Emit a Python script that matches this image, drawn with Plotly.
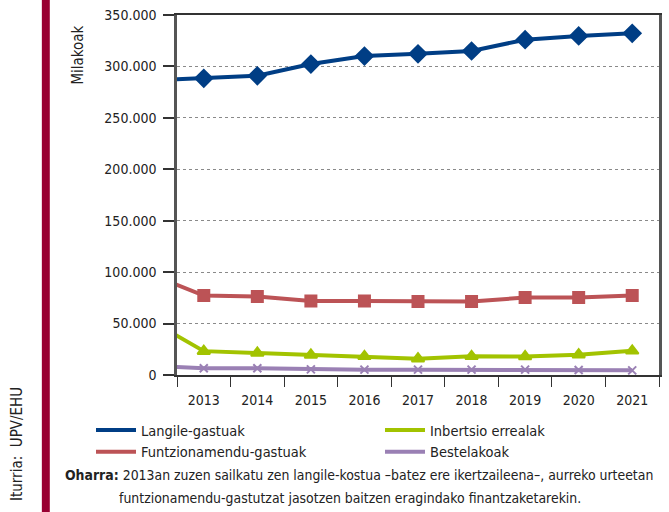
import plotly.graph_objects as go

years = ["2012", "2013", "2014", "2015", "2016", "2017", "2018", "2019", "2020", "2021"]
langile = [286400, 288400, 290900, 302300, 310100, 312300, 315000, 326000, 329600, 332200]
funtzionamendu = [98000, 77200, 76200, 72000, 72000, 71400, 71400, 75300, 75300, 77200]
inbertsio = [53000, 23200, 21400, 19500, 18200, 15900, 18200, 18000, 19800, 23500]
bestelakoak = [9100, 6500, 6500, 5500, 5200, 5200, 5200, 5200, 4900, 4500]

series_names = ["Langile-gastuak", "Funtzionamendu-gastuak", "Inbertsio errealak", "Bestelakoak"]
colors = ["#003E85", "#BC5356", "#A2C300", "#9A80B4"]
symbols = ["diamond", "square", "triangle-up", "x-thin"]
sizes = [13, 11, 11, 8]
values = [langile, funtzionamendu, inbertsio, bestelakoak]

FONT = "DejaVu Sans Condensed, Liberation Sans Narrow, sans-serif"
TXT = "#222"

fig = go.Figure()
for name, col, sym, sz, vals in zip(series_names, colors, symbols, sizes, values):
    fig.add_trace(go.Scatter(
        x=years, y=vals, mode="lines+markers", name=name, showlegend=False,
        line=dict(color=col, width=4),
        marker=dict(symbol=sym, size=sz, color=col, line=dict(color=col, width=2)),
        cliponaxis=True,
    ))

# legend entries (line samples only), ordered row-wise for 2 columns
for idx in [0, 2, 1, 3]:
    fig.add_trace(go.Scatter(
        x=[None], y=[None], mode="lines", name=series_names[idx],
        line=dict(color=colors[idx], width=4), showlegend=True,
    ))

W, H = 669, 512
L, R, T, B = 177, 7, 15, 137
pw, ph = W - L - R, H - T - B

def px(x):
    return (x - L) / pw

def py(y):
    return (H - B - y) / ph

fig.update_layout(
    width=W, height=H, autosize=False,
    margin=dict(l=L, r=R, t=T, b=B),
    paper_bgcolor="white", plot_bgcolor="white",
    separators=",.",
    font=dict(family=FONT, size=14, color=TXT),
    legend=dict(
        orientation="h", xref="paper", yref="paper",
        x=px(95), y=py(414), xanchor="left", yanchor="top",
        entrywidth=234, entrywidthmode="pixels",
        font=dict(family=FONT, size=14.5, color=TXT),
        itemwidth=40, tracegroupgap=0, bgcolor="rgba(0,0,0,0)",
    ),
    xaxis=dict(
        type="category", categoryorder="array", categoryarray=years,
        range=[0.5, 9.5], tickson="boundaries", ticks="outside", ticklen=10,
        tickcolor="#333", tickwidth=1, showgrid=False,
        showline=True, linecolor="#333", linewidth=1.5, mirror=True,
        ticklabelstandoff=11,
        tickfont=dict(family=FONT, size=14, color=TXT),
        fixedrange=True,
    ),
    yaxis=dict(
        range=[0, 350000], dtick=50000, tickformat=",.0f",
        ticks="outside", ticklen=11, tickcolor="#333", tickwidth=1.5,
        showgrid=True, gridcolor="#8a8a8a", griddash="dot", gridwidth=1,
        showline=True, linecolor="#555", linewidth=2.5, mirror=True,
        zeroline=False, ticklabelstandoff=4,
        tickfont=dict(family=FONT, size=14, color=TXT),
        fixedrange=True,
    ),
    shapes=[dict(type="rect", xref="paper", yref="paper",
                 x0=px(41), x1=px(49), y0=py(512), y1=py(0),
                 fillcolor="#990032", line=dict(width=0), layer="above")],
    annotations=[
        dict(text="Milakoak", xref="paper", yref="paper", x=px(77), y=py(55),
             xanchor="center", yanchor="middle", textangle=-90, showarrow=False,
             font=dict(family=FONT, size=15, color=TXT)),
        dict(text="Iturria:  UPV/EHU", xref="paper", yref="paper", x=px(16), y=py(444),
             xanchor="center", yanchor="middle", textangle=-90, showarrow=False,
             font=dict(family=FONT, size=15, color=TXT)),
        dict(text="<b>Oharra:</b> 2013an zuzen sailkatu zen langile-kostua –batez ere ikertzaileena–, aurreko urteetan",
             xref="paper", yref="paper", x=px(62), y=py(475),
             xanchor="left", yanchor="middle", showarrow=False,
             font=dict(family=FONT, size=13.9, color=TXT)),
        dict(text="funtzionamendu-gastutzat jasotzen baitzen eragindako finantzaketarekin.",
             xref="paper", yref="paper", x=px(117), y=py(498),
             xanchor="left", yanchor="middle", showarrow=False,
             font=dict(family=FONT, size=13.9, color=TXT)),
    ],
)

fig.write_html("out.html", config={"displayModeBar": False},
               post_script="document.body.style.margin='0';document.body.style.padding='0';")
